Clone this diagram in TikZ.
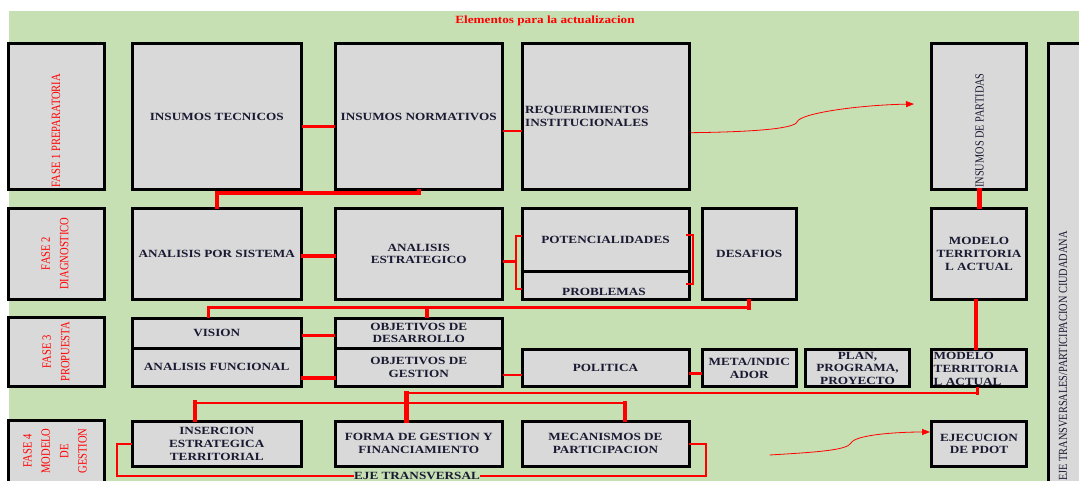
\documentclass[tikz,border=0pt]{standalone}
\usepackage{fontspec}
\setmainfont{Liberation Serif}
\newfontfamily\bxf[FakeStretch=1.2]{Liberation Serif}
\newfontfamily\rtf[FakeStretch=0.833]{Liberation Serif}
\usetikzlibrary{calc,arrows.meta}
\definecolor{bggreen}{RGB}{198,224,180}
\definecolor{boxgray}{RGB}{217,217,217}
\definecolor{txt}{RGB}{25,25,50}
\definecolor{rd}{RGB}{255,0,0}
\newcommand\bx[7][]{\node[box,minimum width=#5pt-#3pt-3pt,minimum height=#6pt-#4pt-3pt,#1] (#2) at ({(#3+#5)/2},{(#4+#6)/2}) {#7};}
\begin{document}
\begin{tikzpicture}[x=1pt,y=-1pt,
  box/.style={draw=black,line width=3pt,fill=boxgray,inner sep=0pt,
     font=\bxf\bfseries\fontsize{11}{12.8}\selectfont,text=txt,align=center},
  lbl/.style={font=\bxf\bfseries\fontsize{11}{12.8}\selectfont,text=txt,align=center,inner sep=0pt},
  fase/.style={rotate=90,font=\rtf\fontsize{12.7}{18.3}\selectfont,text=rd,align=center,inner sep=0pt},
  vlbl/.style={rotate=90,font=\rtf\fontsize{12.4}{15}\selectfont,text=txt,inner sep=0pt},
  rl/.style={draw=rd,line width=#1,line cap=rect},
  rl/.default=2.5pt,
  carrow/.style={draw=rd,line width=0.8pt,-{Triangle[length=8pt,width=6pt]}},
]
\useasboundingbox (0,0) rectangle (1079,481);
\clip (0,0) rectangle (1079,481);
\fill[bggreen] (8.6,11.4) rectangle (1079,481);

\node[lbl,text=rd,anchor=base] (title) at (545,23.3) {Elementos para la actualizacion};

% row 1
\bx{f1}{7}{42}{106}{191}{}
\bx{tec}{130.5}{42}{303}{191}{INSUMOS TECNICOS}
\bx{norm}{333.5}{42}{504}{191}{INSUMOS NORMATIVOS}
\bx{req}{520.5}{42}{690.5}{191}{}
\bx{part}{930}{42}{1028}{191}{}
\bx{eje}{1047}{42}{1110}{720}{}
% row 2
\bx{f2}{7}{207}{106}{301}{}
\bx{aps}{130.5}{207}{303}{301}{ANALISIS POR SISTEMA}
\bx{ae}{333.5}{207}{504}{301}{ANALISIS\\ESTRATEGICO}
\bx{pot}{520.5}{207}{690.5}{272.5}{POTENCIALIDADES}
\bx{prob}{520.5}{269.5}{690.5}{301}{}
\bx{des}{701}{207}{797.5}{301}{DESAFIOS}
\bx{mod1}{930}{207}{1028}{301}{MODELO\\TERRITORIA\\L ACTUAL}
% row 3
\bx{f3}{7}{315.5}{106}{388}{}
\bx{vis}{130.5}{316.5}{303}{349.5}{VISION}
\bx{af}{130.5}{346.5}{303}{388}{ANALISIS FUNCIONAL}
\bx{od}{333.5}{316.5}{504}{349.5}{OBJETIVOS DE\\DESARROLLO}
\bx{og}{333.5}{346.5}{504}{388}{OBJETIVOS DE\\GESTION}
\bx{pol}{520.5}{348.3}{690.5}{388.3}{POLITICA}
\bx{meta}{701}{348.3}{797.5}{388.3}{META/INDIC\\ADOR}
\bx{plan}{804}{348.3}{911}{388.3}{PLAN,\\PROGRAMA,\\PROYECTO}
\bx{mod2}{930}{348.3}{1028}{388.3}{}
% row 4
\bx{f4}{7}{419}{106}{520}{}
\bx{ins}{130.5}{420}{303}{467.5}{INSERCION\\ESTRATEGICA\\TERRITORIAL}
\bx{forma}{333.5}{420}{504}{467.5}{FORMA DE GESTION Y\\FINANCIAMIENTO}
\bx{mec}{520.5}{420}{690.5}{467.5}{MECANISMOS DE\\PARTICIPACION}
\bx{ejec}{930}{420}{1028}{468}{EJECUCION\\DE PDOT}

% labels not centred in their boxes
\node[lbl,align=left,anchor=west] (reqt) at (525,116.5) {REQUERIMIENTOS\\INSTITUCIONALES};
\node[lbl] (probt) at (604,291.5) {PROBLEMAS};
\node[lbl,align=left,anchor=west] (mod2t) at (933.5,369) {MODELO\\TERRITORIA\\L ACTUAL};
\node[fase] (f1t) at (56,130.5) {FASE 1 PREPARATORIA};
\node[fase] (f2t) at (55,253.5) {FASE 2\\DIAGNOSTICO};
\node[fase] (f3t) at (56,352) {FASE 3\\PROPUESTA};
\node[fase] (f4t) at (55,451) {FASE 4\\MODELO\\DE\\GESTION};
\node[vlbl] (partt) at (979.5,130.5) {INSUMOS DE PARTIDAS};
\node[vlbl] (ejet) at (1063,356) {EJE TRANSVERSALES/PARTICIPACION CIUDADANA};

% level / column helper coordinates
\coordinate (L1) at (0,127);
\coordinate (L2) at (0,131);
\coordinate (L3) at (0,193);
\coordinate (A1) at (0,132.7);
\coordinate (T1) at (914,104);
\coordinate (L5) at (0,256);
\coordinate (L6) at (0,261.7);
\coordinate (X6) at (516,0);
\coordinate (L6a) at (0,236);
\coordinate (L6b) at (0,289);
\coordinate (X7) at (692.5,0);
\coordinate (X7i) at (687,0);
\coordinate (L7a) at (0,235);
\coordinate (L7b) at (0,284);
\coordinate (L8) at (0,307.5);
\coordinate (X8a) at (208,0);
\coordinate (X8b) at (427,0);
\coordinate (L9) at (0,335.7);
\coordinate (L10) at (0,377.7);
\coordinate (L11) at (0,375);
\coordinate (L12) at (0,373.3);
\coordinate (X13) at (975.5,0);
\coordinate (X14) at (979.5,0);
\coordinate (X15a) at (977.5,0);
\coordinate (L15) at (0,393);
\coordinate (X15b) at (406,0);
\coordinate (X16a) at (195,0);
\coordinate (L16) at (0,402.7);
\coordinate (X16b) at (625,0);
\coordinate (L17a) at (0,444);
\coordinate (L17b) at (0,476);
\coordinate (X17a) at (117,0);
\coordinate (X17b) at (706,0);
\coordinate (S2) at (769.6,455);
\coordinate (A2) at (0,432);

% connectors
\draw[rl=3pt] (tec.east |- L1) -- (norm.west |- L1);
\draw[rl=2.5pt] (norm.east |- L2) -- (req.west |- L2);
\draw[rl=4pt] (aps.north) -- (aps.north |- L3) -| (norm.south);
\draw[carrow] (req.east |- A1) .. controls (750,132) and (794,129) .. (797,122)
   .. controls (800,113) and (860,105) .. (T1);
\draw[rl=4pt] (aps.east |- L5) -- (ae.west |- L5);
\draw[rl=2.5pt] (ae.east |- L6) -- (X6 |- L6);
\draw[rl=2.5pt] (pot.west |- L6a) -| (X6 |- L6b) -- (prob.west |- L6b);
\draw[rl=2pt] (X7i |- L7a) -| (X7 |- L7b) -- (X7i |- L7b);
\draw[rl=2.5pt] (X8a |- L8) -- (des.south |- L8);
\draw[rl=3pt] (X8a |- vis.north) -- (X8a |- L8);
\draw[rl=3.5pt] (X8b |- L8) -- (X8b |- od.north);
\draw[rl=4pt] (des.south) -- (des.south |- L8);
\draw[rl=3pt] (vis.east |- L9) -- (od.west |- L9);
\draw[rl=4pt] (af.east |- L10) -- (og.west |- L10);
\draw[rl=2.5pt] (og.east |- L11) -- (pol.west |- L11);
\draw[rl=2.5pt] (pol.east |- L12) -- (meta.west |- L12);
\draw[rl=4pt] (X13 |- mod1.south) -- (X13 |- mod2.north);
\draw[rl=5pt] (X14 |- part.south) -- (X14 |- mod1.north);
\draw[rl=2pt] (X15a |- L15) -- (X15b |- L15);
\draw[rl=3pt] (X15a |- mod2.south) -- (X15a |- L15);
\draw[rl=5pt] (X15b |- L15) -- (X15b |- forma.north);
\draw[rl=2pt] (X16a |- L16) -- (X16b |- L16);
\draw[rl=4.5pt] (X16a |- ins.north) -- (X16a |- L16);
\draw[rl=4pt] (X16b |- L16) -- (X16b |- mec.north);
\draw[rl=2.5pt] (ins.west |- L17a) -| (X17a |- L17b) -| (X17b |- L17a) -- (mec.east |- L17a);
\node[lbl,fill=bggreen] (ejel) at (417,475.5) {EJE TRANSVERSAL};
\draw[carrow] (S2) .. controls (820,452) and (847,450) .. (851,443)
   .. controls (855,435) and (895,432) .. (ejec.west |- A2);
\end{tikzpicture}
\end{document}
